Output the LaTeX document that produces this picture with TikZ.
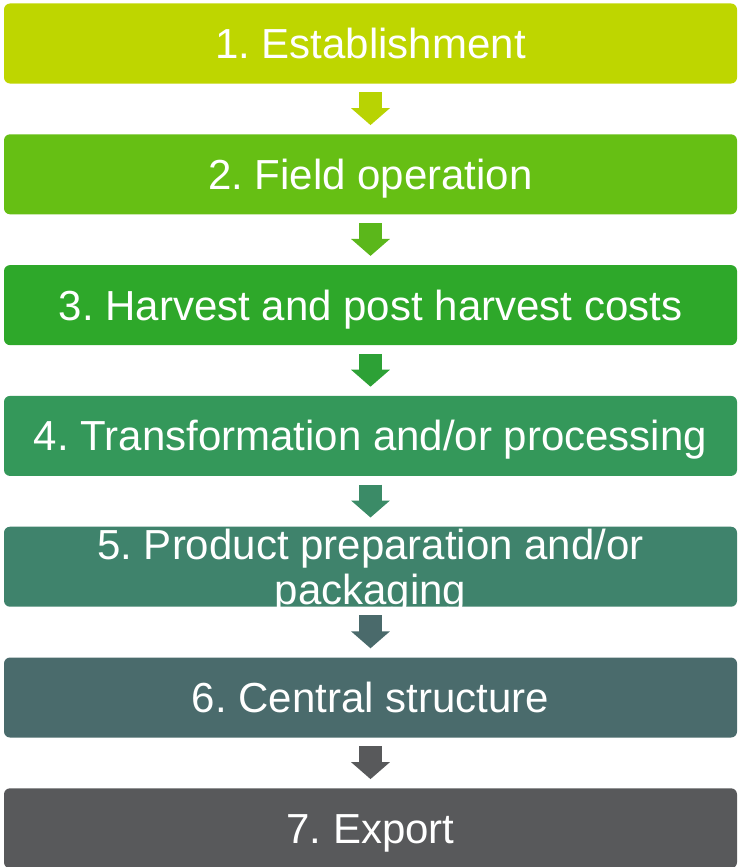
\documentclass[tikz,border=0pt]{standalone}
\usepackage{fontspec}
\setmainfont{Liberation Sans}
\usetikzlibrary{positioning,arrows.meta}
\frenchspacing

\definecolor{stepA}{HTML}{BED600}
\definecolor{stepB}{HTML}{66BF14}
\definecolor{stepC}{HTML}{2EA82A}
\definecolor{stepD}{HTML}{34985A}
\definecolor{stepE}{HTML}{3F836C}
\definecolor{stepF}{HTML}{4A6B6C}
\definecolor{stepG}{HTML}{58595B}

\definecolor{arrA}{HTML}{B8D303}
\definecolor{arrB}{HTML}{5BB71B}
\definecolor{arrC}{HTML}{2DA136}
\definecolor{arrD}{HTML}{3B8B67}
\definecolor{arrE}{HTML}{4A6A6B}
\definecolor{arrF}{HTML}{58595B}

\tikzset{
  stepbox/.style={rectangle, rounded corners=6pt, fill=#1, text=white,
    minimum width=733pt, minimum height=80pt, inner sep=0pt,
    text height=30pt, text depth=0pt,
    font=\fontsize{42}{45}\selectfont},
  flowarrow/.style={draw=#1, line width=23pt, shorten <=8.5pt, shorten >=9pt,
    -{Triangle[width=38pt,length=17pt]}}
}

\begin{document}
\begin{tikzpicture}[node distance=50.4pt]
\useasboundingbox (0,0) rectangle (738pt,-867pt);

\node[stepbox=stepA] (est) at (370.5pt,-43.5pt) {1. Establishment};
\node[stepbox=stepB, below=of est] (field) {2. Field operation};
\node[stepbox=stepC, below=of field] (harvest) {3. Harvest and post harvest costs};
\node[stepbox=stepD, below=of harvest] (transf) {4. Transformation and/or processing};
\node[stepbox=stepE, below=of transf] (prep)
  {\raisebox{22.5pt}[30pt][0pt]{\begin{tabular}[t]{@{}c@{}}5. Product preparation and/or\\packaging\end{tabular}}};
\node[stepbox=stepF, below=of prep] (central) {6. Central structure};
\node[stepbox=stepG, below=of central] (export) {7. Export};

\foreach \i/\j/\c in {est/field/arrA, field/harvest/arrB, harvest/transf/arrC,%
            transf/prep/arrD, prep/central/arrE, central/export/arrF%
            }
    \draw[flowarrow=\c] (\i) -- (\j);

\end{tikzpicture}
\end{document}
